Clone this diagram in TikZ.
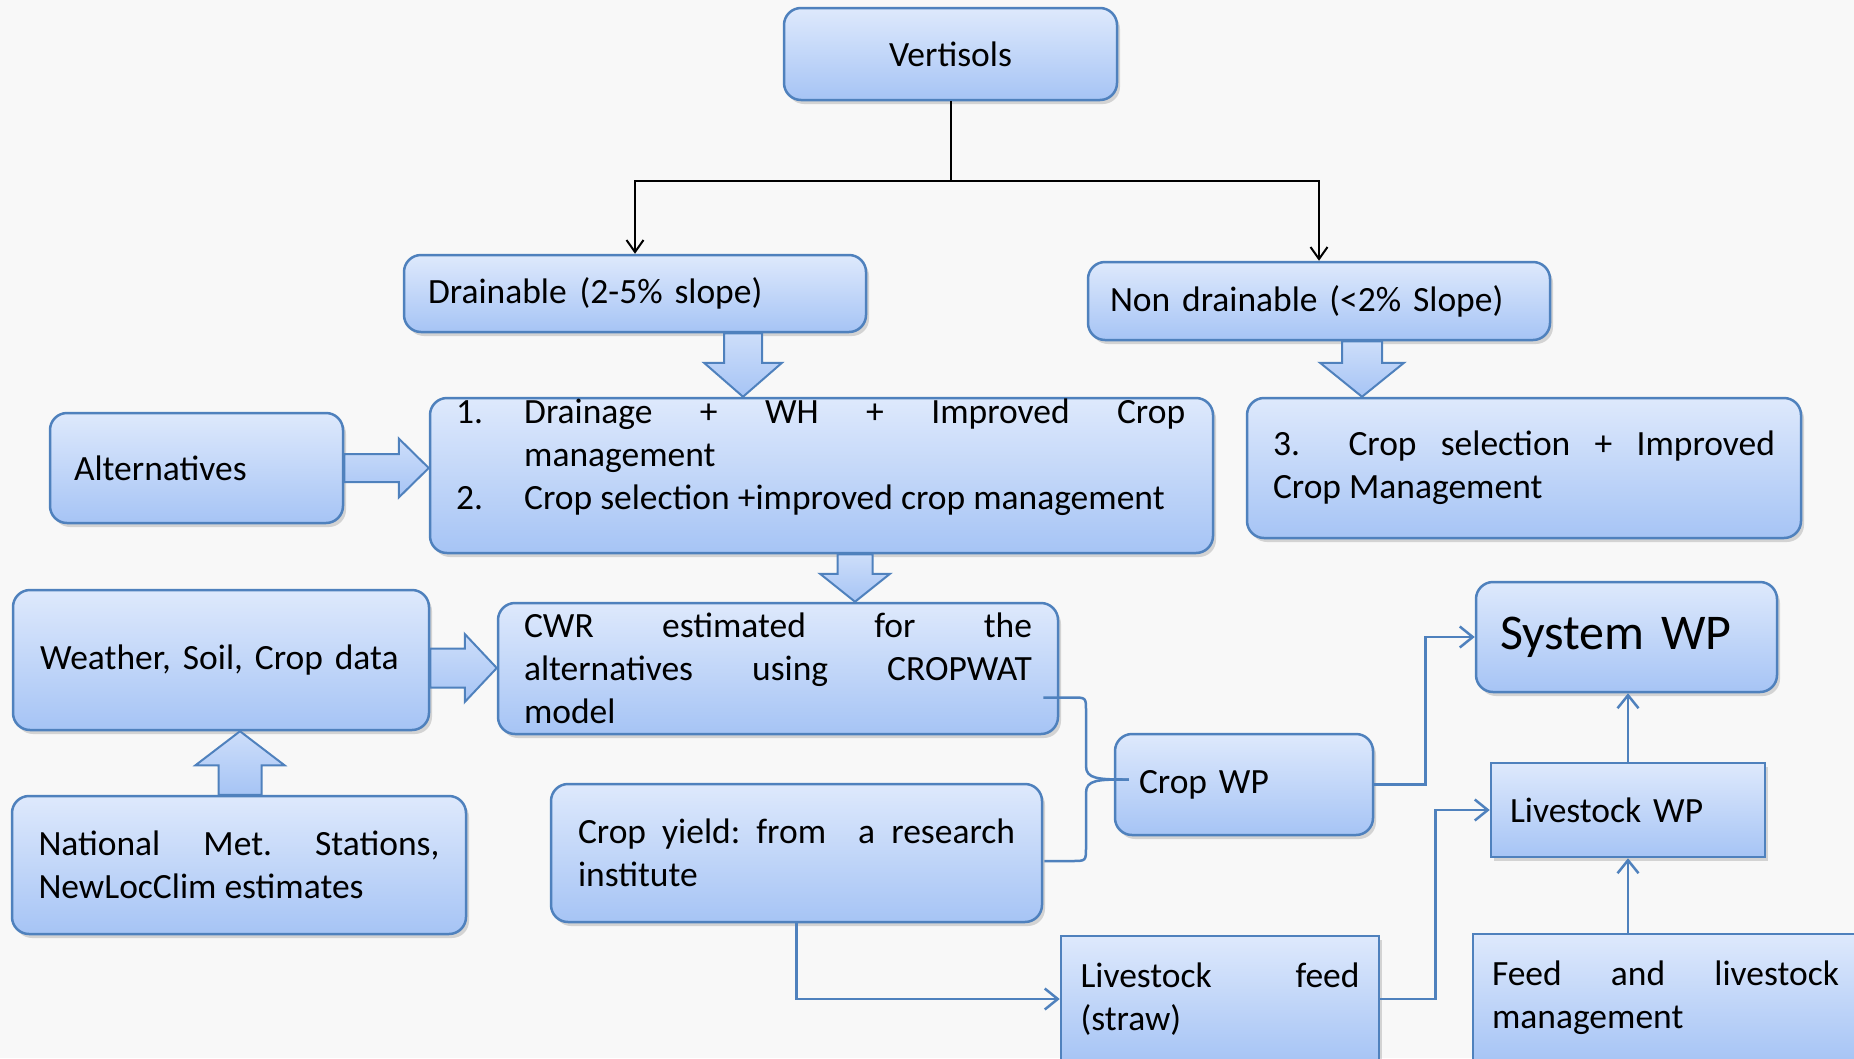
\documentclass[tikz,border=0pt]{standalone}
\usepackage{fontspec}
\setmainfont{Carlito}
\usetikzlibrary{calc,arrows.meta,shadows}
\definecolor{bord}{RGB}{79,129,189}
\definecolor{btop}{RGB}{222,233,252}
\definecolor{bbot}{RGB}{166,196,245}
\definecolor{bgc}{RGB}{248,248,248}
\hyphenpenalty=10000 \exhyphenpenalty=10000 \frenchspacing
\newcommand{\bodyfont}{\fontsize{35.5pt}{43pt}\selectfont}
\newcommand{\bigfont}{\fontsize{50pt}{61pt}\selectfont}
% fat block arrows: source node, target node, centre, shaft half width, head half width, head length
\newcommand{\fatdown}[6]{%
 \path[fat] let \p1=(#1.south), \p2=(#2.north) in
  (#3pt-#4pt,\y1) -- (#3pt+#4pt,\y1) -- (#3pt+#4pt,\y2+#6pt) -- (#3pt+#5pt,\y2+#6pt) -- (#3pt,\y2)
  -- (#3pt-#5pt,\y2+#6pt) -- (#3pt-#4pt,\y2+#6pt) -- cycle;}
\newcommand{\fatup}[6]{%
 \path[fat] let \p1=(#1.north), \p2=(#2.south) in
  (#3pt-#4pt,\y1) -- (#3pt+#4pt,\y1) -- (#3pt+#4pt,\y2-#6pt) -- (#3pt+#5pt,\y2-#6pt) -- (#3pt,\y2)
  -- (#3pt-#5pt,\y2-#6pt) -- (#3pt-#4pt,\y2-#6pt) -- cycle;}
\newcommand{\fatright}[6]{%
 \path[fat] let \p1=(#1.east), \p2=(#2.west) in
  (\x1,-#3pt+#4pt) -- (\x2-#6pt,-#3pt+#4pt) -- (\x2-#6pt,-#3pt+#5pt) -- (\x2,-#3pt)
  -- (\x2-#6pt,-#3pt-#5pt) -- (\x2-#6pt,-#3pt-#4pt) -- (\x1,-#3pt-#4pt) -- cycle;}
\tikzset{
  box/.style={draw=bord, line width=2.5pt, rounded corners=17pt, top color=btop, bottom color=bbot,
    drop shadow={shadow xshift=3pt, shadow yshift=-4pt, opacity=0.3, fill=black!50},
    inner sep=0pt, font=\bodyfont, text=black},
  sqbox/.style={box, sharp corners},
  fat/.style={draw=bord, line width=2pt, top color=btop!70!bbot, bottom color=bbot, line join=miter},
  blk/.style={draw=black, line width=2pt, -{Straight Barb[length=12pt,width=17pt]}},
  bl/.style={draw=bord, line width=2.5pt},
  bla/.style={bl, -{Straight Barb[length=13pt,width=21pt]}},
}
\begin{document}
\begin{tikzpicture}[x=1pt,y=-1pt]
\useasboundingbox (0,0) rectangle (1854,1058);
\clip (0,0) rectangle (1854,1058);
\fill[bgc] (0,0) rectangle (1854,1058);

% boxes
\node[box, minimum width=333pt, minimum height=92pt] (verti) at (950.5,54) {Vertisols};
\node[box, minimum width=462pt, minimum height=77pt, text width=414pt, align=left] (drain) at (635,293.5) {Drainable\hspace{13pt}(2-5\% slope)};
\node[box, minimum width=462pt, minimum height=78pt, text width=418pt, align=left] (nondr) at (1319,301) {Non drainable (<2\% Slope)};
\node[box, minimum width=293pt, minimum height=110pt, text width=245pt, align=left] (alt) at (196.5,468) {Alternatives};
\node[box, minimum width=783pt, minimum height=155pt] (alts) at (821.5,475.5) {};
\node[anchor=north west, inner sep=0pt, font=\bodyfont] (altstext) at (456,393)
  {\begin{tabular}{@{}p{68pt}@{}p{661pt}@{}}1. & Drainage + WH + Improved Crop\linebreak management\\
   2. & Crop selection +improved crop management\end{tabular}};
\node[box, minimum width=554pt, minimum height=140pt, text width=502pt, align=justify] (b3) at (1524,468) {3.\ \ Crop selection + Improved\linebreak Crop Management};
\node[box, minimum width=416pt, minimum height=140pt, text width=362pt, align=left] (weather) at (221,660) {Weather, Soil, Crop data};
\node[box, minimum width=560pt, minimum height=131pt, text width=508pt, align=justify] (cwr) at (778,668.5) {CWR estimated for the\linebreak alternatives using CROPWAT\linebreak model};
\node[box, minimum width=454pt, minimum height=138pt, text width=401pt, align=justify] (natl) at (239,865) {National Met. Stations,\linebreak NewLocClim estimates};
\node[box, minimum width=491pt, minimum height=138pt, text width=437pt, align=justify] (yield) at (796.5,853) {Crop yield: from\ \ a research\linebreak institute};
\node[box, minimum width=258pt, minimum height=101pt, text width=210pt, align=left] (cropwp) at (1244,784.5) {Crop WP};
\node[box, minimum width=301pt, minimum height=110pt, text width=253pt, align=left, font=\bigfont] (syswp) at (1626.5,637) {System WP};
\node[sqbox, minimum width=274pt, minimum height=94pt, text width=236pt, align=left] (lwp) at (1628,810) {Livestock WP};
\node[sqbox, minimum width=318pt, minimum height=126pt, text width=279pt, align=justify] (lfeed) at (1220,999) {Livestock feed\linebreak (straw)};
\node[sqbox, minimum width=385pt, minimum height=128pt, text width=347pt, align=justify] (feedm) at (1665.5,998) {Feed and livestock\linebreak management};

% black connectors
\draw[blk] (verti.south) -- ++(0,80) -| (drain.north);
\draw[blk] (verti.south) -- ++(0,80) -| (nondr.north);

% block arrows
\fatdown{drain}{alts}{743}{19}{39}{34}
\fatdown{nondr}{b3}{1362}{20}{42}{34}
\fatright{alt}{alts}{468}{14}{29.5}{30}
\fatdown{alts}{cwr}{855}{17.5}{35}{28}
\fatright{weather}{cwr}{668}{19.5}{34}{32}
\fatup{natl}{weather}{240}{21.5}{44.5}{34}

% brace to Crop WP
\draw[bl] ($(cwr.east)+(-16,29)$) -- (1072,697.5) .. controls (1086,697.5) .. (1086,711) -- (1086,766)
  .. controls (1086,779) and (1098,779.5) .. ($(cropwp.west)+(15,-5)$);
\draw[bl] ($(yield.east)+(1,8)$) -- (1072,861) .. controls (1086,861) .. (1086,847) -- (1086,793)
  .. controls (1086,779.5) and (1098,779.5) .. ($(cropwp.west)+(15,-5)$);

% blue connectors
\draw[bla] (cropwp.east) -- ++(51,0) |- (syswp.west);
\draw[bla] (lfeed.east) -- ++(55,0) |- (lwp.west);
\draw[bla] (lwp.north) -- (lwp.north |- syswp.south);
\draw[bla] (lwp.south |- feedm.north) -- (lwp.south);
\draw[bla] (yield.south) |- (lfeed.west);
\end{tikzpicture}
\end{document}
